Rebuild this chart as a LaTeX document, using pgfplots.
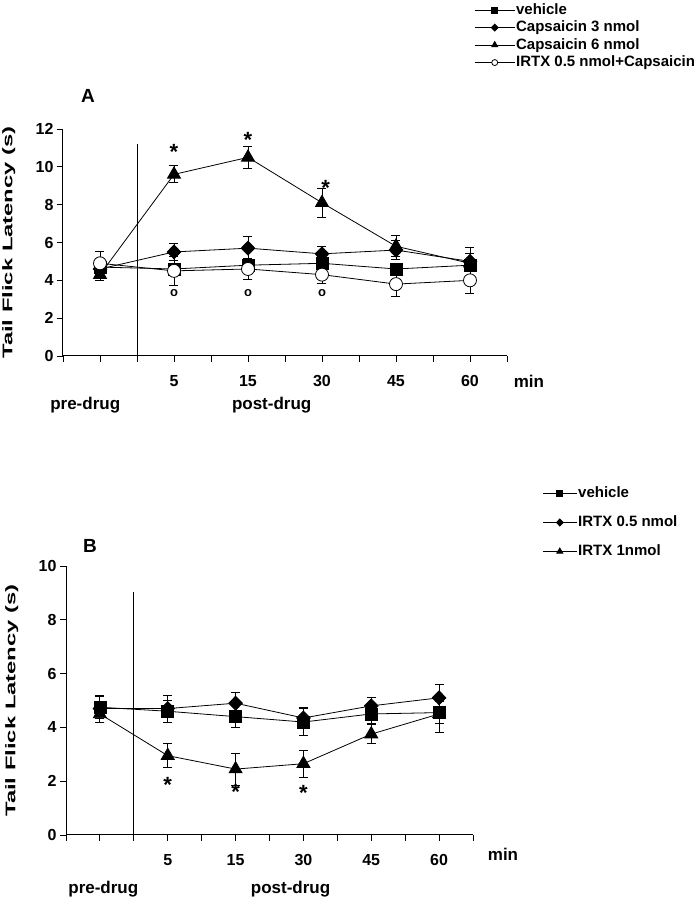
\documentclass[border=0pt]{standalone}
\usepackage{fontspec}
\setmainfont{Liberation Sans}
\newfontfamily\widef{Liberation Sans}[FakeStretch=1.7]
\usepackage{pgfplots}
\pgfplotsset{compat=1.18}

\pgfplotsset{
  panel/.style={
    scale only axis, axis lines*=left, xmin=-0.5, xmax=5.5, ymin=0, clip=false,
    axis line style={line width=1pt},
    xtick={1,...,5}, xticklabels={5,15,30,45,60},
    minor xtick={-0.5,0,...,5.5},
    tick align=outside, major tick length=6pt, minor tick length=6pt,
    tick style={black, line width=0.9pt},
    /pgf/number format/assume math mode=true,
    yticklabel style={font=\bfseries\fontsize{16}{16}\selectfont},
    xticklabel style={font=\bfseries\fontsize{16}{16}\selectfont, anchor=north, yshift=-10pt},
    ylabel={Tail Flick Latency (s)},
    legend cell align=left,
    legend style={draw=none, fill=none, inner sep=0pt,
      font=\bfseries\fontsize{15}{15}\selectfont,
      nodes={inner sep=1pt, text height=11pt, text depth=3pt}},
  },
  ser/.style={black, line width=0.8pt, mark size=#1, mark options={solid},
    /pgfplots/error bars/y dir=both, /pgfplots/error bars/y explicit,
    /pgfplots/error bars/error bar style={line width=0.9pt},
    /pgfplots/error bars/error mark options={rotate=90, mark size=4.5pt, line width=0.9pt}},
  lgimg/.style 2 args={legend image code/.code={
    \draw[mark repeat=2, mark phase=2, mark size=#2, line width=0.8pt]
      plot coordinates {(0pt,0pt) (#1/2,0pt) (#1,0pt)};}},
}
\newcommand{\lab}{\bfseries\fontsize{17}{17}\selectfont}
\newcommand{\starf}{\bfseries\fontsize{22}{22}\selectfont}

\begin{document}
\begin{tikzpicture}
\useasboundingbox (0,0) rectangle (695pt,900pt);

% ---------- panel A ----------
\node[font=\bfseries\fontsize{19}{19}\selectfont] at (88pt,804pt) {A};
\begin{axis}[panel, at={(63pt,544pt)}, anchor=south west,
  width=444pt, height=227pt, ymax=12, ytick={0,2,...,12},
  ylabel style={font=\widef\bfseries\fontsize{14}{14}\selectfont,
    at={(axis description cs:-0.122,0.5)}, anchor=center},
  legend style={at={(axis description cs:0.926,1.56)}, anchor=north west, row sep=1.5pt}]
\addplot[ser=6pt, mark=square*, mark options={fill=black}, lgimg={40pt}{3pt}] coordinates {
  (0,4.7) +- (0,0.3) (1,4.6) +- (0,0.3) (2,4.8) +- (0,0.35)
  (3,4.9) +- (0,0.35) (4,4.6) +- (0,0.3) (5,4.8) +- (0,0.3)};
\addlegendentry{vehicle}
\addplot[ser=7pt, mark=diamond*, mark options={fill=black, xscale=1.3}, lgimg={40pt}{3.5pt}] coordinates {
  (0,4.6) +- (0,0.3) (1,5.5) +- (0,0.45) (2,5.7) +- (0,0.6)
  (3,5.4) +- (0,0.4) (4,5.6) +- (0,0.5) (5,5.0) +- (0,0.4)};
\addlegendentry{Capsaicin 3 nmol}
\addplot[ser=7.5pt, mark=triangle*, mark options={fill=black}, lgimg={40pt}{3.5pt}] coordinates {
  (0,4.3) +- (0,0.3) (1,9.6) +- (0,0.45) (2,10.5) +- (0,0.6)
  (3,8.1) +- (0,0.75) (4,5.8) +- (0,0.55) (5,4.9) +- (0,0.85)};
\addlegendentry{Capsaicin 6 nmol}
\addplot[ser=6.5pt, mark=*, mark options={fill=white}, lgimg={40pt}{3pt}] coordinates {
  (0,4.9) +- (0,0.65) (1,4.5) +- (0,0.75) (2,4.6) +- (0,0.55)
  (3,4.3) +- (0,0.45) (4,3.8) +- (0,0.65) (5,4.0) +- (0,0.7)};
\addlegendentry{IRTX 0.5 nmol+Capsaicin}
\draw[line width=0.9pt] (axis cs:0.5,0) -- (axis cs:0.5,11.2);
\node[font=\starf] at (axis cs:1,10.8) {*};
\node[font=\starf] at (axis cs:2,11.4) {*};
\node[font=\starf] at (axis cs:3.05,8.9) {*};
\node[font=\bfseries\fontsize{13}{13}\selectfont] at (axis cs:1,3.35) {o};
\node[font=\bfseries\fontsize{13}{13}\selectfont] at (axis cs:2,3.35) {o};
\node[font=\bfseries\fontsize{13}{13}\selectfont] at (axis cs:3,3.35) {o};
\node[font=\lab] at ([xshift=22pt,yshift=-25pt]axis cs:5.5,0) {min};
\node[font=\lab] at ([yshift=-49pt]axis cs:-0.2,0) {pre-drug};
\node[font=\lab] at ([yshift=-49pt]axis cs:2.32,0) {post-drug};
\end{axis}

% ---------- panel B ----------
\node[font=\bfseries\fontsize{19}{19}\selectfont] at (90pt,354pt) {B};
\begin{axis}[panel, at={(66pt,65pt)}, anchor=south west,
  width=407pt, height=269pt, ymax=10, ytick={0,2,...,10},
  ylabel style={font=\widef\bfseries\fontsize{14}{14}\selectfont,
    at={(axis description cs:-0.133,0.5)}, anchor=center},
  legend style={at={(axis description cs:1.17,1.30)}, anchor=north west, row sep=13pt}]
\addplot[ser=6pt, mark=square*, mark options={fill=black}, lgimg={34pt}{3pt}] coordinates {
  (0,4.75) +- (0,0.4) (1,4.6) +- (0,0.4) (2,4.4) +- (0,0.4)
  (3,4.2) +- (0,0.5) (4,4.5) +- (0,0.35) (5,4.55) +- (0,0.4)};
\addlegendentry{vehicle}
\addplot[ser=7pt, mark=diamond*, mark options={fill=black, xscale=1.3}, lgimg={34pt}{3.5pt}] coordinates {
  (0,4.7) +- (0,0.5) (1,4.7) +- (0,0.5) (2,4.9) +- (0,0.4)
  (3,4.35) +- (0,0.4) (4,4.8) +- (0,0.3) (5,5.1) +- (0,0.5)};
\addlegendentry{IRTX 0.5 nmol}
\addplot[ser=7.5pt, mark=triangle*, mark options={fill=black}, lgimg={34pt}{3.5pt}] coordinates {
  (0,4.5) +- (0,0.3) (1,2.95) +- (0,0.45) (2,2.45) +- (0,0.6)
  (3,2.65) +- (0,0.5) (4,3.75) +- (0,0.35) (5,4.5) +- (0,0.7)};
\addlegendentry{IRTX 1nmol}
\draw[line width=0.9pt] (axis cs:0.5,0) -- (axis cs:0.5,9.03);
\node[font=\starf] at (axis cs:1,1.85) {*};
\node[font=\starf] at (axis cs:2,1.6) {*};
\node[font=\starf] at (axis cs:3,1.55) {*};
\node[font=\lab] at ([xshift=30pt,yshift=-19pt]axis cs:5.5,0) {min};
\node[font=\lab] at ([yshift=-54pt]axis cs:0.05,0) {pre-drug};
\node[font=\lab] at ([yshift=-54pt]axis cs:2.81,0) {post-drug};
\end{axis}
\end{tikzpicture}
\end{document}
